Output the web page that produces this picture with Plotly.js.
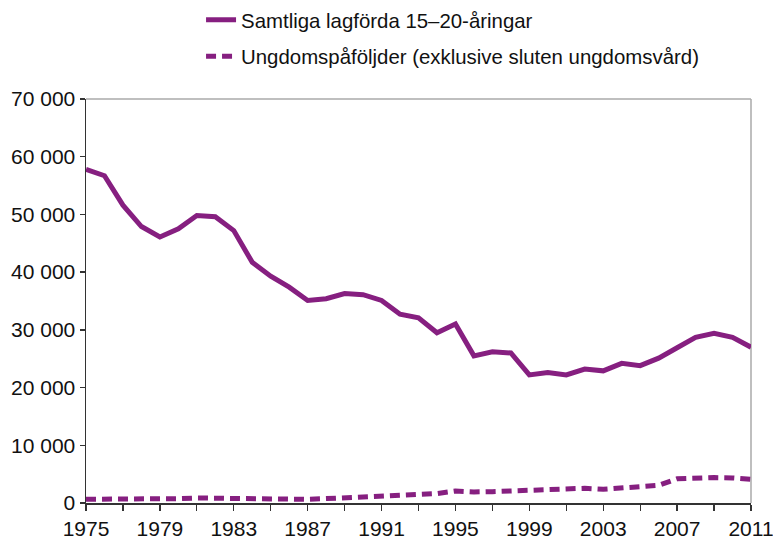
<!DOCTYPE html>
<html>
<head>
<meta charset="utf-8">
<script src="https://cdn.plot.ly/plotly-3.0.1.min.js"></script>
<style>html,body{margin:0;padding:0;background:#fff;}#chart{width:773px;height:545px;}</style>
</head>
<body>
<div id="chart"></div>
<script>
const years = [1975,1976,1977,1978,1979,1980,1981,1982,1983,1984,1985,1986,1987,1988,1989,1990,1991,1992,1993,1994,1995,1996,1997,1998,1999,2000,2001,2002,2003,2004,2005,2006,2007,2008,2009,2010,2011];
const samtliga = [57800,56700,51600,47900,46100,47500,49800,49600,47200,41700,39300,37400,35100,35400,36300,36100,35100,32700,32100,29500,31000,25500,26200,26000,22200,22600,22200,23200,22900,24200,23800,25100,26900,28700,29400,28700,27000];
const ungdom = [640,640,640,640,640,760,870,830,640,640,520,590,640,760,870,1040,1210,1270,1390,1630,2080,1910,1970,2080,2200,2320,2370,2550,2370,2600,2840,3070,4200,4400,4400,4350,4100];
const seriesNames = ["Samtliga lagförda 15–20-åringar", "Ungdomspåföljder (exklusive sluten ungdomsvård)"];
const xTickVals = [1975,1977,1979,1981,1983,1985,1987,1989,1991,1993,1995,1997,1999,2001,2003,2005,2007,2009,2011];
const xTickText = ["1975","","1979","","1983","","1987","","1991","","1995","","1999","","2003","","2007","","2011"];
const yTickVals = [0,10000,20000,30000,40000,50000,60000,70000];
const yTickText = ["0","10 000","20 000","30 000","40 000","50 000","60 000","70 000"];

const purple = "#861f80";
const data = [
  {x: years, y: samtliga, name: seriesNames[0], type: "scatter", mode: "lines",
   line: {color: purple, width: 5}, legendgroup: "a"},
  {x: years, y: ungdom, name: seriesNames[1], type: "scatter", mode: "lines",
   line: {color: purple, width: 5, dash: "10px,6px"}, legendgroup: "b"}
];
const font = {family: "Liberation Sans, Arial, Helvetica, sans-serif", size: 21, color: "#111"};
const legendFont = {family: "Liberation Sans, Arial, Helvetica, sans-serif", size: 20.4, color: "#111"};
const layout = {
  width: 773, height: 545,
  margin: {l: 86, r: 22, t: 99, b: 42},
  paper_bgcolor: "#fff", plot_bgcolor: "#fff",
  font: font,
  showlegend: true,
  legend: {x: 0.173, xanchor: "left", y: 1.0, yanchor: "top", yref: "container",
           traceorder: "grouped", tracegroupgap: 7, font: legendFont, bgcolor: "rgba(0,0,0,0)"},
  xaxis: {range: [1975, 2011], tickvals: xTickVals, ticktext: xTickText,
          ticks: "outside", ticklen: 6, tickcolor: "#333", tickwidth: 1.3,
          showline: true, linecolor: "#333", linewidth: 1.5, showgrid: false, zeroline: false,
          tickfont: font, automargin: false, ticklabeloverflow: "allow"},
  yaxis: {range: [0, 70000], tickvals: yTickVals, ticktext: yTickText,
          ticks: "outside", ticklen: 5, tickcolor: "#333", tickwidth: 1.3,
          showline: true, linecolor: "#333", linewidth: 1.5, showgrid: false, zeroline: false,
          tickfont: font, automargin: false, ticklabeloverflow: "allow"},
  shapes: [
    {type: "line", xref: "paper", yref: "paper", x0: 0, x1: 1, y0: 1, y1: 1, line: {color: "#aaa", width: 1.5}, layer: "below"},
    {type: "line", xref: "paper", yref: "paper", x0: 1, x1: 1, y0: 0, y1: 1, line: {color: "#aaa", width: 1.5}, layer: "below"}
  ]
};
Plotly.newPlot("chart", data, layout, {displayModeBar: false, staticPlot: true});
</script>
</body>
</html>
